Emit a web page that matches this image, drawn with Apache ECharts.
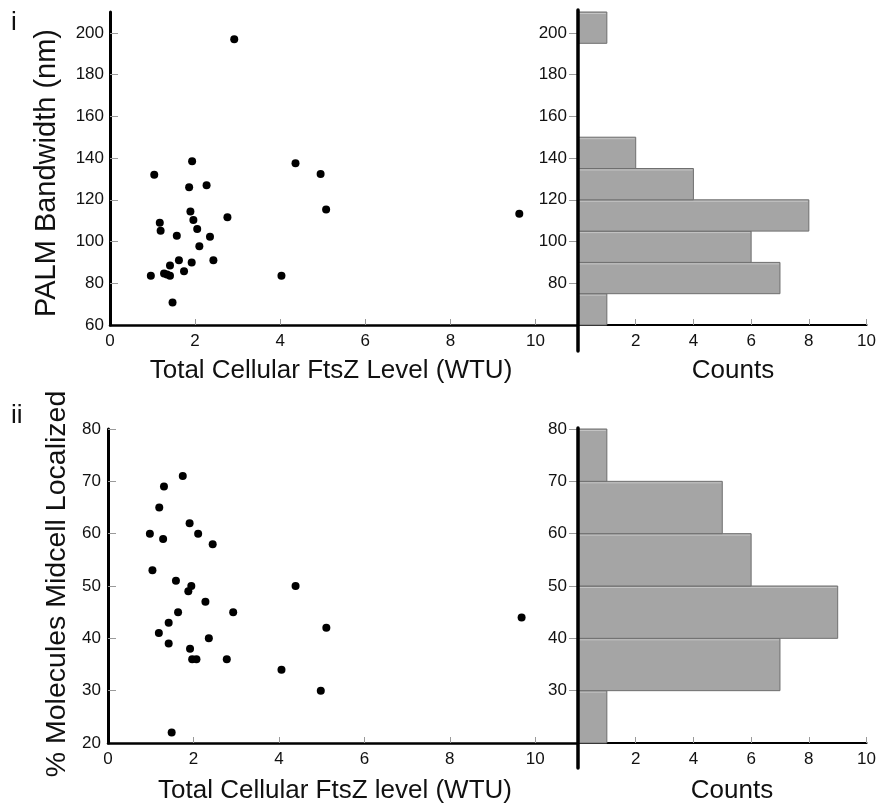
<!DOCTYPE html>
<html>
<head>
<meta charset="utf-8">
<script src="https://cdn.jsdelivr.net/npm/echarts@6/dist/echarts.min.js"></script>
<style>html,body{margin:0;padding:0;background:#fff}#c{width:879px;height:812px}</style>
</head>
<body>
<div id="c"></div>
<script>
// ---- Panel i: Total cellular FtsZ level vs PALM bandwidth ----
const ftszI = [2.92,1.04,1.93,1.86,2.27,4.36,4.95,5.08,1.89,1.96,1.17,1.19,2.76,2.05,1.57,2.35,2.10,1.62,1.92,2.43,1.41,0.96,1.27,1.34,1.41,1.74,4.03,1.47,9.62];
const bandwidth = [197,132,138.5,126,127,137.5,132.4,115.4,114.4,110.3,109,105.2,111.6,106,102.8,102.3,97.7,91,90,91,88.5,83.6,84.7,84.2,83.6,85.7,83.6,70.8,113.3];
const binStartI = [60,75,90,105,120,135,195];
const binEndI   = [75,90,105,120,135,150,210];
const countsI   = [1,7,6,8,4,2,1];

// ---- Panel ii: Total cellular FtsZ level vs % molecules midcell localized ----
const ftszII = [1.75,1.31,1.20,1.91,0.98,1.29,2.11,2.45,1.04,1.59,1.95,1.88,4.39,2.28,1.64,2.93,1.42,1.19,2.36,1.42,1.92,1.97,2.07,2.78,4.06,4.98,5.11,9.68,1.49];
const localized = [71,69,65,62,60,59,60,58,53,51,50,49,50,47,45,45,43,41,40,39,38,36,36,36,34,30,42,44,22];
const binStartII = [20,30,40,50,60,70];
const binEndII   = [30,40,50,60,70,80];
const countsII   = [1,7,9,6,5,1];

// ---- tick labels ----
const scatterXTicks = [0,2,4,6,8,10];
const histXTicks = [2,4,6,8,10];
const yTicksI_scatter = [60,80,100,120,140,160,180,200];
const yTicksI_hist = [80,100,120,140,160,180,200];
const yTicksII_scatter = [20,30,40,50,60,70,80];
const yTicksII_hist = [30,40,50,60,70,80];

const FONT = 'Liberation Sans, Arial, sans-serif';
const chart = echarts.init(document.getElementById('c'), null, {renderer: 'canvas'});

function pairs(xs, ys){ return xs.map((x,i)=>[x, ys[i]]); }
function bins(s, e, c){ return s.map((v,i)=>[v, e[i], c[i]]); }

const labelStyle = {color:'#111', fontSize:17, fontFamily:FONT};
const tickStyle = {color:'#9a9a9a', width:1};

function scatterX(gi){
  return {gridIndex:gi, type:'value', min:0, max:11,
    axisLine:{show:true, lineStyle:{color:'#000', width:2.5}},
    axisTick:{show:true, inside:true, length:6, lineStyle:tickStyle, customValues:[2,4,6,8,10]},
    axisLabel:Object.assign({margin:8, customValues:scatterXTicks}, labelStyle),
    splitLine:{show:false}};
}
function scatterY(gi, mn, mx, ticks, margin){
  return {gridIndex:gi, type:'value', min:mn, max:mx,
    axisLine:{show:true, lineStyle:{color:'#000', width:3}},
    axisTick:{show:true, inside:true, length:8, lineStyle:tickStyle, customValues:ticks.slice(1)},
    axisLabel:Object.assign({margin:margin, customValues:ticks}, labelStyle),
    splitLine:{show:false}};
}
function histX(gi){
  return {gridIndex:gi, type:'value', min:0, max:10,
    axisLine:{show:true, lineStyle:{color:'#000', width:2}},
    axisTick:{show:true, inside:true, length:6, lineStyle:tickStyle, customValues:histXTicks},
    axisLabel:Object.assign({margin:8, customValues:histXTicks}, labelStyle),
    splitLine:{show:false}};
}
function histY(gi, mn, mx, ticks){
  return {gridIndex:gi, type:'value', min:mn, max:mx,
    axisLine:{show:false},
    axisTick:{show:true, inside:false, length:9, lineStyle:tickStyle, customValues:ticks},
    axisLabel:Object.assign({margin:11, customValues:ticks}, labelStyle),
    splitLine:{show:false}};
}
function extX(gi){ return {gridIndex:gi, type:'value', min:0, max:10, show:false}; }
function extY(gi){ return {gridIndex:gi, type:'value', min:0, max:1, z:10,
    axisLine:{show:true, lineStyle:{color:'#000', width:3.5}},
    axisTick:{show:false}, axisLabel:{show:false}, splitLine:{show:false}}; }

function histSeries(xi, yi, data){
  return {type:'custom', xAxisIndex:xi, yAxisIndex:yi, data:data,
    encode:{x:2, y:[0,1]},
    renderItem:function(params, api){
      const lo = api.coord([0, api.value(0)]);
      const hi = api.coord([api.value(2), api.value(1)]);
      return {type:'group', children:[
        {type:'rect',
          shape:{x:lo[0], y:hi[1], width:hi[0]-lo[0], height:lo[1]-hi[1]},
          style:{fill:'#a5a5a5', stroke:'#6f6f6f', lineWidth:1}},
        {type:'line',
          shape:{x1:lo[0], y1:hi[1]+1.5, x2:hi[0]-1, y2:hi[1]+1.5},
          style:{stroke:'#c4c4c4', lineWidth:1}}
      ]};
    }};
}

const option = {
  backgroundColor:'#fff',
  animation:false,
  grid:[
    {left:110, top:12, width:468, height:313},
    {left:578, top:12, width:290, height:313},
    {left:108, top:429, width:470, height:314},
    {left:578, top:429, width:290, height:314},
    {left:578, top:10, width:290, height:341},
    {left:578, top:428, width:290, height:340}
  ],
  xAxis:[scatterX(0), histX(1), scatterX(2), histX(3), extX(4), extX(5)],
  yAxis:[
    scatterY(0, 60, 210, yTicksI_scatter, 6),
    histY(1, 60, 210, yTicksI_hist),
    scatterY(2, 20, 80, yTicksII_scatter, 7),
    histY(3, 20, 80, yTicksII_hist),
    extY(4), extY(5)
  ],
  series:[
    {type:'scatter', xAxisIndex:0, yAxisIndex:0, data:pairs(ftszI, bandwidth), symbolSize:8, itemStyle:{color:'#000', opacity:1}},
    histSeries(1, 1, bins(binStartI, binEndI, countsI)),
    {type:'scatter', xAxisIndex:2, yAxisIndex:2, data:pairs(ftszII, localized), symbolSize:8, itemStyle:{color:'#000', opacity:1}},
    histSeries(3, 3, bins(binStartII, binEndII, countsII))
  ],
  graphic:[
    {type:'text', left:11, top:10, style:{text:'i', font:'26px '+FONT, fill:'#111'}},
    {type:'text', left:11, top:403, style:{text:'ii', font:'26px '+FONT, fill:'#111'}},
    {type:'text', x:331, y:371, style:{text:'Total Cellular FtsZ Level (WTU)', font:'26px '+FONT, fill:'#111', align:'center', verticalAlign:'middle'}},
    {type:'text', x:733, y:371, style:{text:'Counts', font:'26px '+FONT, fill:'#111', align:'center', verticalAlign:'middle'}},
    {type:'text', x:335, y:791, style:{text:'Total Cellular FtsZ level (WTU)', font:'26px '+FONT, fill:'#111', align:'center', verticalAlign:'middle'}},
    {type:'text', x:732, y:791, style:{text:'Counts', font:'26px '+FONT, fill:'#111', align:'center', verticalAlign:'middle'}},
    {type:'text', x:47, y:173, rotation:Math.PI/2, style:{text:'PALM Bandwidth (nm)', font:'29px '+FONT, fill:'#111', align:'center', verticalAlign:'middle'}},
    {type:'text', x:57, y:584, rotation:Math.PI/2, style:{text:'% Molecules Midcell Localized', font:'28.5px '+FONT, fill:'#111', align:'center', verticalAlign:'middle'}}
  ]
};
chart.setOption(option);
</script>
</body>
</html>
